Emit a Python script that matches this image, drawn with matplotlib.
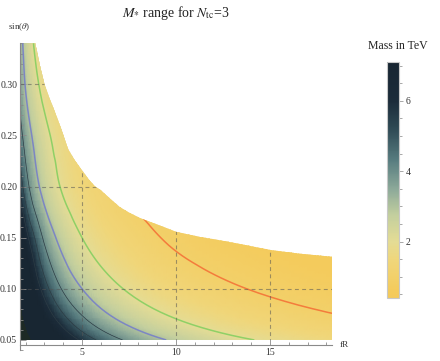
import numpy as np
import matplotlib
matplotlib.use("Agg")
import matplotlib.pyplot as plt
import matplotlib.tri as mtri
from matplotlib.colors import LinearSegmentedColormap, Normalize
from matplotlib.cm import ScalarMappable
from matplotlib.patches import Polygon
from matplotlib.ticker import MultipleLocator, FormatStrFormatter

# mass in TeV at grid nodes (rows: sin(theta), cols: fR)
fr_nodes = [1.7, 2.0, 2.5, 3.0, 4.0, 5.0, 6.0, 8.0, 10.0, 13.0, 16.0, 18.3]
sin_nodes = [0.05, 0.10, 0.15, 0.20, 0.25, 0.30, 0.34]
mass_grid = [
    [18.1, 15.1, 11.9, 9.82, 7.27, 5.77, 4.79, 3.57, 2.84, 2.18, 1.77, 1.54],
    [12.0, 9.43, 6.95, 5.50, 3.88, 3.00, 2.44, 1.78, 1.40, 1.06, 0.86, 0.75],
    [8.60, 6.60, 4.94, 3.82, 2.63, 2.00, 1.62, 1.17, 0.91, 0.69, 0.55, 0.48],
    [5.64, 4.49, 3.35, 2.67, 1.90, 1.48, 1.21, 0.88, 0.70, 0.53, 0.43, 0.37],
    [4.39, 3.59, 2.75, 2.23, 1.62, 1.27, 1.04, 0.77, 0.61, 0.47, 0.38, 0.33],
    [3.67, 2.93, 2.20, 1.76, 1.25, 0.97, 0.80, 0.58, 0.46, 0.35, 0.28, 0.25],
    [3.41, 2.64, 1.91, 1.50, 1.05, 0.81, 0.65, 0.48, 0.37, 0.28, 0.23, 0.20],
]

# upper edge of the allowed region
edge_fr = [2.5, 2.75, 3.0, 3.25, 3.5, 3.9, 4.27, 4.6, 5.0, 5.35, 5.69, 6.0, 6.5, 7.0,
           7.5, 8.1, 9.15, 10.0, 11.3, 12.3, 13.5, 15.0, 16.5, 18.3]
edge_sin = [0.341, 0.319, 0.30, 0.287, 0.2757, 0.256, 0.236, 0.226, 0.2157, 0.207,
            0.20, 0.1964, 0.188, 0.180, 0.1745, 0.169, 0.1618, 0.1557, 0.1506,
            0.1476, 0.1435, 0.138, 0.1345, 0.1313]

line_levels = [1, 2, 3]
line_colors = ['#f47c3c', '#8fd066', '#7c86c4']
thin_levels = [4, 5, 6]

cmap_values = [0.4, 0.6, 1.45, 2.0, 2.75, 3.45, 4.3, 5.2, 6.0, 7.1]
cmap_colors = ['#f4ca5a', '#f4cb5c', '#f0d67a', '#e4dc95', '#c3cf9e', '#8fab9a',
               '#587d80', '#2f4a55', '#1c2c3a', '#182632']

XMIN, XMAX = 1.7, 18.3
YMIN, YMAX = 0.040, 0.340


def smooth_field(fr, s, m):
    """Refine the coarse mass table with matplotlib's cubic tri interpolator (log space)."""
    FR, S = np.meshgrid(np.log(fr), np.log(s))
    tri = mtri.Triangulation(FR.ravel(), S.ravel())
    z = np.log(np.asarray(m)).ravel()
    interp = mtri.CubicTriInterpolator(tri, z, kind='geom')
    refiner = mtri.UniformTriRefiner(tri)
    tri_f, z_f = refiner.refine_field(z, interp, subdiv=4)
    tri_lin = mtri.Triangulation(np.exp(tri_f.x), np.exp(tri_f.y), tri_f.triangles)
    return tri_lin, np.exp(z_f)


def main():
    plt.rcParams['font.family'] = ['Liberation Serif', 'DejaVu Serif']
    plt.rcParams['mathtext.fontset'] = 'stix'

    fig = plt.figure(figsize=(4.4, 3.61), dpi=100)
    ax = fig.add_axes([20 / 440, 1 - 350.2 / 361, 312 / 440, 306.9 / 361])

    cvals = [(v - cmap_values[0]) / (cmap_values[-1] - cmap_values[0]) for v in cmap_values]
    cmap = LinearSegmentedColormap.from_list('starry', list(zip(cvals, cmap_colors)))
    norm = Normalize(vmin=cmap_values[0], vmax=cmap_values[-1])

    tri, mass = smooth_field(fr_nodes, sin_nodes, mass_grid)

    # region clip
    verts = [(XMIN, 0.05), (XMAX, 0.05)]
    verts += list(zip(edge_fr[::-1], edge_sin[::-1]))
    verts += [(XMIN, 0.341)]
    region = Polygon(verts, closed=True, facecolor='none', edgecolor='none',
                     transform=ax.transData)
    ax.add_patch(region)

    pc = ax.tripcolor(tri, mass, shading='gouraud', cmap=cmap, norm=norm, rasterized=True)
    pc.set_clip_path(region)

    dark = ax.tricontourf(tri, mass, levels=[13.3, 100], colors=['#1d2925'])
    dark.set_clip_path(region)

    thin = ax.tricontour(tri, mass, levels=thin_levels, colors='#2c3c44', linewidths=0.5)
    thin.set_clip_path(region)
    for lev, col in zip(line_levels, line_colors):
        cs = ax.tricontour(tri, mass, levels=[lev], colors=col, linewidths=1.1)
        cs.set_clip_path(region)

    # dashed grid, only inside the region
    for yv in [0.10, 0.20, 0.30]:
        gl = ax.axhline(yv, color='#555555', alpha=0.55, lw=0.8, ls=(0, (3.5, 3)))
        gl.set_clip_path(region)
    for xv in [5, 10, 15]:
        gl = ax.axvline(xv, color='#555555', alpha=0.55, lw=0.8, ls=(0, (3.5, 3)))
        gl.set_clip_path(region)

    ax.set_xlim(XMIN, XMAX)
    ax.set_ylim(YMIN, YMAX)
    ax.set_facecolor('white')
    for side in ['top', 'right']:
        ax.spines[side].set_visible(False)
    ax.spines['bottom'].set_position(('data', 0.045))
    for side in ['left', 'bottom']:
        ax.spines[side].set_color('#8a8a8a')
        ax.spines[side].set_linewidth(0.8)

    ax.set_xticks([5, 10, 15])
    ax.xaxis.set_minor_locator(MultipleLocator(1))
    ax.set_yticks([0.05, 0.10, 0.15, 0.20, 0.25, 0.30])
    ax.yaxis.set_minor_locator(MultipleLocator(0.01))
    ax.yaxis.set_major_formatter(FormatStrFormatter('%.2f'))
    ax.tick_params(which='both', direction='in', color='#8a8a8a', labelsize=7,
                   labelcolor='#333333', width=0.6)
    ax.tick_params(which='major', length=4, pad=2)
    ax.tick_params(which='minor', length=2.2)

    fig.text(19 / 440, 1 - 27 / 361, r'sin($\theta$)', ha='center', va='center',
             fontsize=6.5, color='#333333')
    fig.text(344 / 440, 1 - 345 / 361, 'fR', ha='center', va='center',
             fontsize=6.5, color='#333333')
    fig.text(176 / 440, 1 - 13 / 361, r'$M_{*}$ range for $N_{\mathrm{tc}}$=3',
             ha='center', va='center', fontsize=10, color='#222222')

    # colorbar
    cax = fig.add_axes([387 / 440, 1 - 298 / 361, 12 / 440, 236 / 361])
    cb = fig.colorbar(ScalarMappable(norm=norm, cmap=cmap), cax=cax)
    cb.set_ticks([2, 4, 6])
    cax.yaxis.set_minor_locator(MultipleLocator(0.5))
    cax.tick_params(which='both', direction='out', color='#9a9a9a', labelsize=7,
                    labelcolor='#333333', width=0.6)
    cax.tick_params(which='major', length=3, pad=2)
    cax.tick_params(which='minor', length=1.8)
    cb.outline.set_edgecolor('#c8c8c8')
    cb.outline.set_linewidth(0.8)
    fig.text(398 / 440, 1 - 46 / 361, 'Mass in TeV', ha='center', va='center',
             fontsize=8.5, color='#222222')

    fig.savefig('out.png', dpi=100)


if __name__ == "__main__":
    main()
